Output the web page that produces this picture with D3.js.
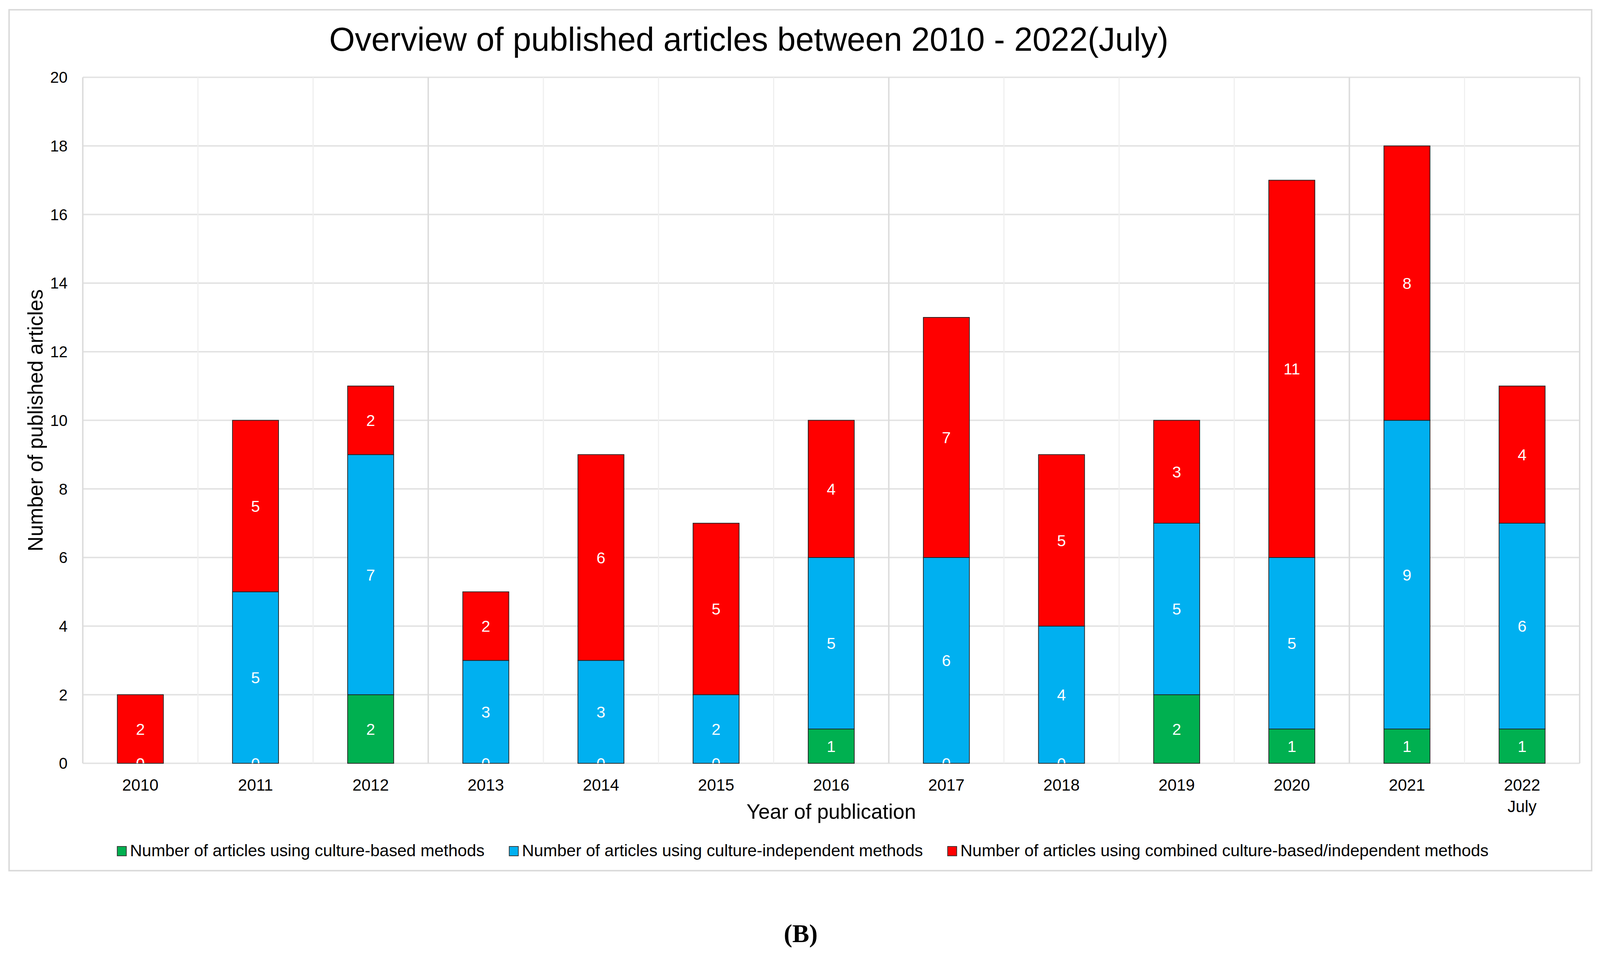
<!DOCTYPE html>
<html>
<head>
<meta charset="utf-8">
<script src="https://cdn.jsdelivr.net/npm/d3@7"></script>
<style>
  html, body { margin: 0; padding: 0; background: #fff; overflow: hidden; }
  svg { display: block; }
  text { font-family: "Liberation Sans", Arial, sans-serif; }
</style>
</head>
<body>
<div class="chart-area"></div>
<script>
// year labels (last one has a second line)
const years = ["2010", "2011", "2012", "2013", "2014", "2015", "2016", "2017", "2018", "2019", "2020", "2021", "2022\nJuly"];
// series values
const cultureBased = [0, 0, 2, 0, 0, 0, 1, 0, 0, 2, 1, 1, 1];
const cultureIndependent = [0, 5, 7, 3, 3, 2, 5, 6, 4, 5, 5, 9, 6];
const combined = [2, 5, 2, 2, 6, 5, 4, 7, 5, 3, 11, 8, 4];
const seriesNames = [
  "Number of articles using culture-based methods",
  "Number of articles using culture-independent methods",
  "Number of articles using combined culture-based/independent methods"
];
const yTicks = [0, 2, 4, 6, 8, 10, 12, 14, 16, 18, 20];

const colors = ["#00b050", "#00b0f0", "#ff0000"];
const keys = ["based", "indep", "comb"];

// layout was measured on a 4406 x 2446 picture; stretch it to whatever the window is
const W = window.innerWidth, H = window.innerHeight;
const sx = W / 4406, sy = H / 2446;
const px = v => v * sx, py = v => v * sy, fs = v => v * sx;

let rows = years.map((y, i) => ({
  year: y, based: cultureBased[i], indep: cultureIndependent[i], comb: combined[i]
}));

const svg = d3.select(".chart-area").append("svg")
  .attr("width", W).attr("height", H);

// outer chart frame
svg.append("rect")
  .attr("x", px(25)).attr("y", py(25)).attr("width", px(4358)).attr("height", py(2205))
  .attr("fill", "#fff").attr("stroke", "#d9d9d9").attr("stroke-width", px(4));

const plot = {left: px(228), right: px(4350), top: py(198), bottom: py(1955)};

const x = d3.scaleBand().domain(years).range([plot.left, plot.right])
  .paddingInner(0.6).paddingOuter(0.3);
const y = d3.scaleLinear().domain([0, 20]).range([plot.bottom, plot.top]);

// horizontal gridlines
svg.append("g").selectAll("line").data(yTicks).enter().append("line")
  .attr("x1", plot.left).attr("x2", plot.right)
  .attr("y1", d => y(d)).attr("y2", d => y(d))
  .attr("stroke", "#e2e2e2").attr("stroke-width", px(4));

// vertical gridlines between categories
const step = x.step();
const strong = i => (i % 4 == 3 || i == 0 || i == years.length);
svg.append("g").selectAll("line").data(d3.range(years.length + 1)).enter().append("line")
  .attr("x1", i => plot.left + i * step).attr("x2", i => plot.left + i * step)
  .attr("y1", plot.top).attr("y2", plot.bottom)
  .attr("stroke", i => strong(i) ? "#dcdcdc" : "#efefef")
  .attr("stroke-width", i => strong(i) ? px(4) : px(3));

// stacked bars
const stacked = d3.stack().keys(keys)(rows);

const layers = svg.append("g").selectAll("g").data(stacked).enter().append("g")
  .attr("fill", (d, i) => colors[i]);

layers.selectAll("rect").data(d => d).enter().append("rect")
  .attr("x", d => x(d.data.year))
  .attr("width", x.bandwidth())
  .attr("y", d => y(d[1]))
  .attr("height", d => y(d[0]) - y(d[1]))
  .attr("stroke", d => (d[1] - d[0]) > 0 ? "#222" : "none")
  .attr("stroke-width", px(2));

// data labels, clipped to the plot area like in the original
svg.append("clipPath").attr("id", "plotClip").append("rect")
  .attr("x", plot.left).attr("y", plot.top)
  .attr("width", plot.right - plot.left).attr("height", plot.bottom - plot.top);

const labels = svg.append("g").attr("clip-path", "url(#plotClip)");
stacked.forEach(layer => {
  labels.selectAll(null).data(layer).enter().append("text")
    .attr("x", d => x(d.data.year) + x.bandwidth() / 2)
    .attr("y", d => y((d[0] + d[1]) / 2))
    .attr("dy", "0.36em")
    .attr("text-anchor", "middle")
    .attr("fill", "#fff")
    .attr("font-size", fs(44))
    .text(d => d[1] - d[0]);
});

// y axis tick labels
svg.append("g").selectAll("text").data(yTicks).enter().append("text")
  .attr("x", px(186)).attr("y", d => y(d)).attr("dy", "0.36em")
  .attr("text-anchor", "end").attr("font-size", fs(43)).attr("fill", "#000")
  .text(d => d);

// x axis tick labels
const xl = svg.append("g").selectAll("text").data(years).enter().append("text")
  .attr("x", d => x(d) + x.bandwidth() / 2)
  .attr("y", py(2025))
  .attr("text-anchor", "middle").attr("font-size", fs(45)).attr("fill", "#000");
xl.each(function(d) {
  d.split("\n").forEach((part, i) => {
    d3.select(this).append("tspan")
      .attr("x", x(d) + x.bandwidth() / 2)
      .attr("dy", i == 0 ? 0 : py(55))
      .text(part);
  });
});

// axis titles
svg.append("text")
  .attr("x", (plot.left + plot.right) / 2).attr("y", py(2097))
  .attr("text-anchor", "middle").attr("font-size", fs(57))
  .text("Year of publication");

svg.append("text")
  .attr("transform", `translate(${px(117)}, ${(plot.top + plot.bottom) / 2}) rotate(-90)`)
  .attr("text-anchor", "middle").attr("font-size", fs(57))
  .text("Number of published articles");

// title
svg.append("text")
  .attr("x", px(2062)).attr("y", py(130))
  .attr("text-anchor", "middle").attr("font-size", fs(91))
  .text("Overview of published articles between 2010 - 2022(July)");

// legend
const legend = svg.append("g");
let lx = 0;
seriesNames.forEach((name, i) => {
  const g = legend.append("g").attr("transform", `translate(${lx},0)`);
  g.append("rect").attr("x", 0).attr("y", py(2168)).attr("width", px(25)).attr("height", py(24))
    .attr("fill", colors[i]).attr("stroke", "#333").attr("stroke-width", px(2));
  const t = g.append("text").attr("x", px(35)).attr("y", py(2193))
    .attr("font-size", fs(46)).text(name);
  lx += px(35) + t.node().getComputedTextLength() + px(68);
});
const legendW = lx - px(68);
legend.attr("transform", `translate(${px(2211) - legendW / 2},0)`);

// panel caption
svg.append("text")
  .attr("x", px(2205)).attr("y", py(2413))
  .attr("text-anchor", "middle").attr("font-size", fs(70))
  .attr("font-weight", "bold")
  .style("font-family", "'Liberation Serif', 'Times New Roman', serif")
  .text("(B)");
</script>
</body>
</html>
